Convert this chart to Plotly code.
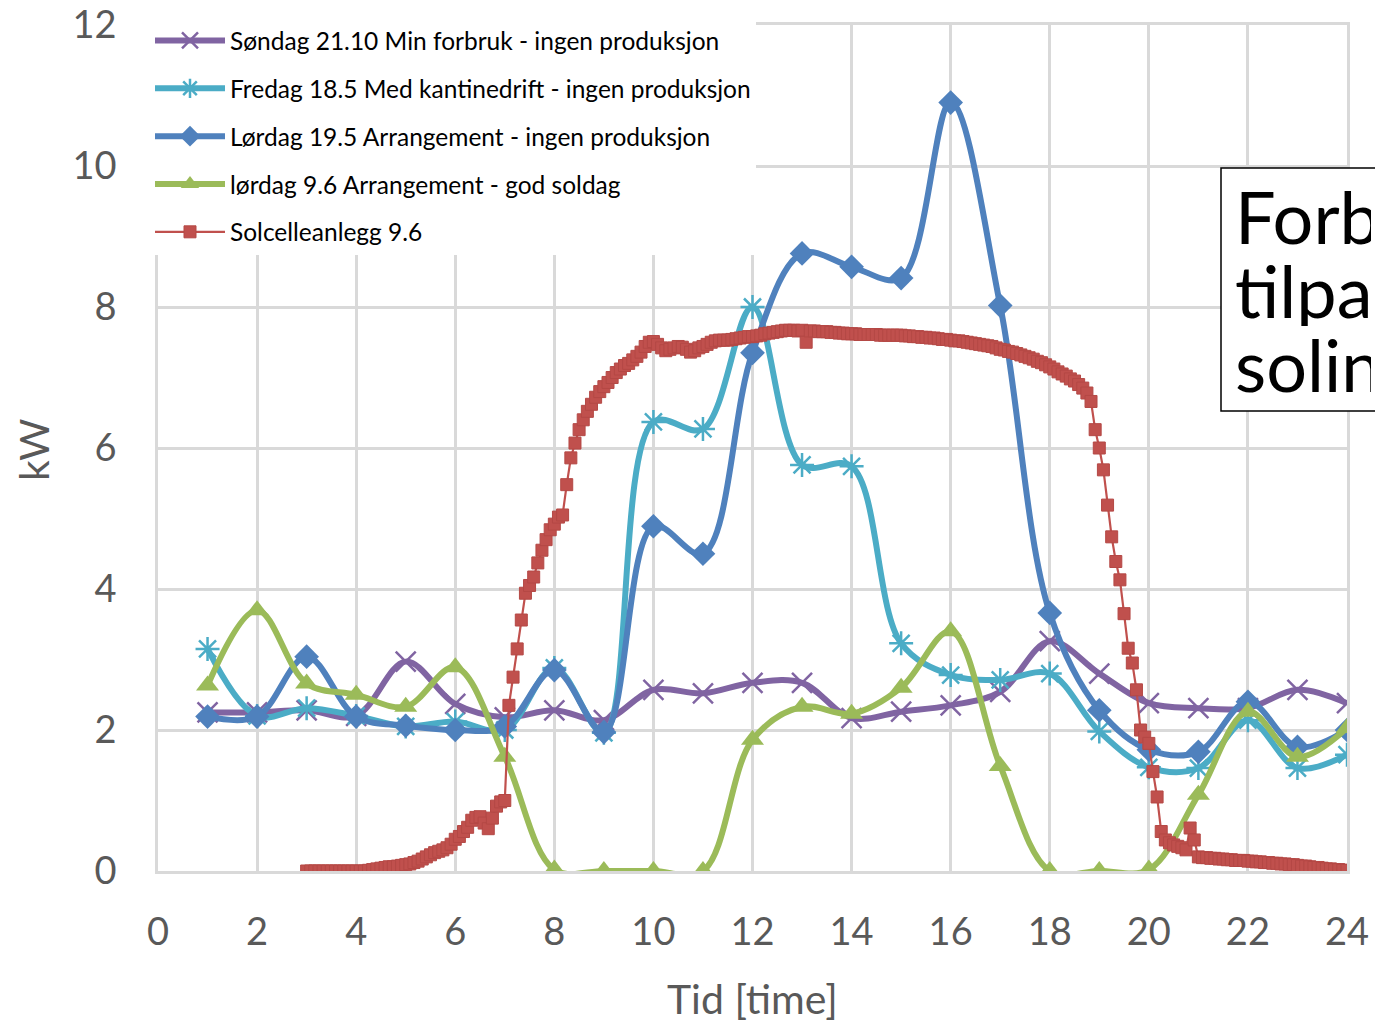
import plotly.graph_objects as go

# ---------------- data ----------------
hours = list(range(1, 25))

sondag_21_10 = [2.25, 2.25, 2.28, 2.2, 2.97, 2.37, 2.18, 2.28, 2.14, 2.57, 2.52, 2.67,
                2.67, 2.17, 2.26, 2.35, 2.54, 3.26, 2.8, 2.38, 2.31, 2.31, 2.57, 2.38]
fredag_18_5 = [3.15, 2.2, 2.31, 2.2, 2.05, 2.12, 2.0, 2.88, 1.96, 6.37, 6.27, 8.0,
               5.76, 5.74, 3.23, 2.78, 2.71, 2.8, 1.98, 1.47, 1.46, 2.14, 1.46, 1.65]
lordag_19_5 = [2.19, 2.19, 3.04, 2.19, 2.06, 2.0, 2.05, 2.85, 1.97, 4.89, 4.5, 7.35,
               8.76, 8.57, 8.41, 10.9, 8.02, 3.66, 2.28, 1.72, 1.69, 2.4, 1.76, 2.0]
lordag_9_6 = [2.63, 3.7, 2.66, 2.5, 2.33, 2.89, 1.62, 0.02, 0.0, 0.0, 0.0, 1.86,
              2.33, 2.23, 2.6, 3.4, 1.49, 0.0, 0.0, 0.02, 1.08, 2.26, 1.62, 2.03]

# Solcelleanlegg 9.6 - 5 minute readings from 03:00 to 24:00 (one row per hour)
sol_start_hour = 3
sol_step_minutes = 5
sol_h03 = [0.0, 0.0, 0.0, 0.0, 0.0, 0.0, 0.0, 0.0, 0.0, 0.0, 0.0, 0.0]
sol_h04 = [0.0, 0.0, 0.0, 0.01, 0.02, 0.03, 0.04, 0.05, 0.06, 0.06, 0.07, 0.08]
sol_h05 = [0.09, 0.1, 0.12, 0.14, 0.17, 0.2, 0.23, 0.26, 0.28, 0.3, 0.33, 0.38]
sol_h06 = [0.45, 0.49, 0.56, 0.62, 0.72, 0.76, 0.77, 0.68, 0.6, 0.75, 0.92, 0.98]
sol_h07 = [1.0, 2.35, 2.75, 3.15, 3.56, 3.94, 4.05, 4.17, 4.37, 4.55, 4.7, 4.84]
sol_h08 = [4.92, 5.02, 5.05, 5.48, 5.86, 6.07, 6.26, 6.4, 6.52, 6.62, 6.72, 6.8]
sol_h09 = [6.87, 6.93, 7.0, 7.07, 7.12, 7.17, 7.2, 7.25, 7.3, 7.36, 7.44, 7.5]
sol_h10 = [7.51, 7.47, 7.42, 7.38, 7.4, 7.42, 7.44, 7.43, 7.4, 7.36, 7.38, 7.42]
sol_h11 = [7.44, 7.47, 7.5, 7.52, 7.53, 7.53, 7.53, 7.54, 7.55, 7.56, 7.57, 7.58]
sol_h12 = [7.58, 7.59, 7.6, 7.62, 7.63, 7.64, 7.65, 7.66, 7.67, 7.67, 7.67, 7.66]
sol_h13 = [7.67, 7.5, 7.66, 7.66, 7.65, 7.65, 7.65, 7.64, 7.64, 7.63, 7.63, 7.62]
sol_h14 = [7.62, 7.62, 7.61, 7.61, 7.61, 7.61, 7.61, 7.6, 7.6, 7.6, 7.6, 7.6]
sol_h15 = [7.6, 7.59, 7.59, 7.58, 7.58, 7.57, 7.57, 7.56, 7.56, 7.55, 7.54, 7.54]
sol_h16 = [7.53, 7.52, 7.52, 7.51, 7.5, 7.49, 7.48, 7.47, 7.46, 7.45, 7.44, 7.42]
sol_h17 = [7.4, 7.39, 7.37, 7.36, 7.34, 7.32, 7.3, 7.28, 7.26, 7.23, 7.21, 7.18]
sol_h18 = [7.15, 7.12, 7.08, 7.05, 7.02, 6.98, 6.95, 6.9, 6.85, 6.78, 6.66, 6.26]
sol_h19 = [6.0, 5.69, 5.19, 4.74, 4.39, 4.13, 3.65, 3.16, 2.95, 2.57, 2.0, 1.9]
sol_h20 = [1.81, 1.41, 1.05, 0.56, 0.44, 0.4, 0.37, 0.35, 0.33, 0.3, 0.61, 0.44]
sol_h21 = [0.2, 0.19, 0.19, 0.18, 0.18, 0.17, 0.17, 0.16, 0.16, 0.15, 0.15, 0.15]
sol_h22 = [0.14, 0.14, 0.13, 0.13, 0.12, 0.12, 0.11, 0.11, 0.1, 0.1, 0.09, 0.09]
sol_h23 = [0.08, 0.07, 0.07, 0.06, 0.05, 0.05, 0.04, 0.03, 0.03, 0.02, 0.02, 0.01]
sol_h24 = [0.01]

solcelle = (sol_h03 + sol_h04 + sol_h05 + sol_h06 + sol_h07 + sol_h08 + sol_h09 +
            sol_h10 + sol_h11 + sol_h12 + sol_h13 + sol_h14 + sol_h15 + sol_h16 +
            sol_h17 + sol_h18 + sol_h19 + sol_h20 + sol_h21 + sol_h22 + sol_h23 + sol_h24)
sol_time = [sol_start_hour + i * sol_step_minutes / 60 for i in range(len(solcelle))]

x_ticks = list(range(0, 25, 2))
y_ticks = list(range(0, 13, 2))

names = ["Søndag 21.10 Min forbruk - ingen produksjon",
         "Fredag 18.5 Med kantinedrift - ingen produksjon",
         "Lørdag 19.5 Arrangement - ingen produksjon",
         "lørdag 9.6 Arrangement - god soldag",
         "Solcelleanlegg 9.6"]

box_lines = ["Forb", "tilpa", "solin"]

# ---------------- figure ----------------
FONT = "Lato"
fig = go.Figure()

series = [
    (sondag_21_10, "#8064A2", dict(symbol="x-thin", size=20, line=dict(width=2.5, color="#8064A2"))),
    (fredag_18_5, "#4BACC6", dict(symbol="asterisk", size=20, line=dict(width=2.5, color="#4BACC6"))),
    (lordag_19_5, "#4F81BD", dict(symbol="diamond", size=19, color="#4F81BD")),
    (lordag_9_6, "#9BBB59", dict(symbol="triangle-up", size=20, color="#9BBB59")),
]
for i, (vals, col, mk) in enumerate(series):
    fig.add_trace(go.Scatter(
        x=hours, y=vals, name=names[i], mode="lines+markers",
        line=dict(color=col, width=6, shape="spline", smoothing=1.0),
        marker=mk, legendgroup=f"g{i}",
    ))

fig.add_trace(go.Scatter(
    x=sol_time, y=solcelle, name=names[4], mode="lines+markers",
    line=dict(color="#C0504D", width=2.2),
    marker=dict(symbol="square", size=12, color="#C0504D",
                line=dict(color="#B44845", width=1)),
    legendgroup="g4",
))

grid = "#D9D9D9"
fig.update_xaxes(
    range=[0, 24], tickvals=x_ticks, ticktext=[str(v) for v in x_ticks],
    showgrid=True, gridcolor=grid, gridwidth=2.5, zeroline=False,
    showline=True, linecolor=grid, linewidth=2.5, mirror=True,
    tickfont=dict(family=FONT, size=38, color="#595959"),
    ticks="", ticklabelstandoff=26,
)
fig.update_yaxes(
    range=[0, 12], tickvals=y_ticks, ticktext=[str(v) for v in y_ticks],
    showgrid=True, gridcolor=grid, gridwidth=2.5, zeroline=False,
    showline=True, linecolor=grid, linewidth=2.5, mirror=True,
    tickfont=dict(family=FONT, size=38, color="#595959"),
    ticks="", ticklabelstandoff=31,
)

W, H = 1375, 1022
L, R, T, B = 158, 28, 25, 151
pw, ph = W - L - R, H - T - B


def px2x(px):
    return (px - L) / pw


def py2y(py):
    return (H - B - py) / ph


annotations = [
    dict(text="kW", xref="paper", yref="paper", x=px2x(33), y=py2y(450),
         textangle=-90, showarrow=False, xanchor="center", yanchor="middle",
         font=dict(family=FONT, size=41, color="#595959")),
    dict(text="Tid [time]", xref="paper", yref="paper", x=px2x(752), y=py2y(998),
         showarrow=False, xanchor="center", yanchor="middle",
         font=dict(family=FONT, size=41, color="#595959")),
]
# text box partly outside the visible canvas: each line clipped to its own box
for txt, cy in zip(box_lines, [216, 290, 364]):
    annotations.append(dict(text=txt, xref="paper", yref="paper",
                            x=px2x(1233), y=py2y(cy), showarrow=False,
                            xanchor="left", yanchor="middle", align="left",
                            valign="middle", width=136, height=72,
                            font=dict(family=FONT, size=72, color="#000000")))

fig.update_layout(
    width=W, height=H,
    margin=dict(l=L, r=R, t=T, b=B, autoexpand=False),
    paper_bgcolor="white", plot_bgcolor="white",
    showlegend=True,
    legend=dict(
        x=px2x(150), y=py2y(18), xanchor="left", yanchor="top",
        bgcolor="white", borderwidth=0,
        font=dict(family=FONT, size=24.5, color="#000000"),
        tracegroupgap=13, itemwidth=70, traceorder="grouped",
    ),
    annotations=annotations,
    shapes=[
        dict(type="rect", xref="paper", yref="paper",
             x0=px2x(1221), x1=px2x(1440), y0=py2y(411), y1=py2y(168),
             line=dict(color="#000000", width=1.5), fillcolor="white", layer="above"),
    ],
)

fig.write_html("out.html")
